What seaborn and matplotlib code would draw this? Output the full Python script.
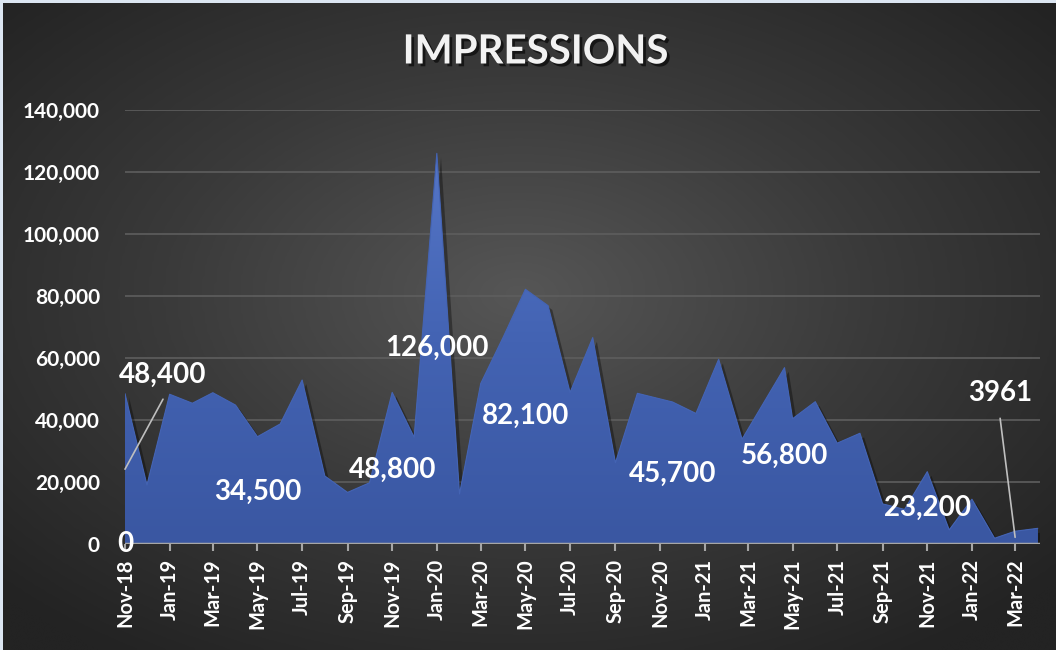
import numpy as np
import pandas as pd
import seaborn as sns
import matplotlib
matplotlib.use("Agg")
import matplotlib.pyplot as plt
import matplotlib.dates as mdates
import matplotlib.patheffects as pe
from matplotlib.colors import LinearSegmentedColormap

# monthly impressions (a few entries in late 2020 / early 2021 fall mid-month)
dates = (
    list(pd.date_range("2018-11-01", "2020-10-01", freq="MS"))
    + list(pd.to_datetime(["2020-11-18", "2020-12-20", "2021-01-20",
                           "2021-02-21", "2021-04-20"]))
    + list(pd.date_range("2021-05-01", "2022-04-01", freq="MS"))
)
impressions = [
    48400, 18900, 48200, 45300, 48700, 44700, 34500, 38600, 52800, 21800,
    16500, 19600, 48800, 34300, 126000, 16000, 51700, 66800, 82100, 76800,
    48800, 66500, 26100, 48500,
    45700, 42000, 59500, 33700, 56800,
    40300, 45800, 32400, 35600, 12800, 11000, 23200, 4400, 14300, 1700,
    3961, 4900,
]
tick_dates = pd.date_range("2018-11-01", "2022-03-01", freq="2MS")
y_ticks = [0, 20000, 40000, 60000, 80000, 100000, 120000, 140000]

# data labels: (point index, text)
label_points = [(0, "48,400"), (6, "34,500"), (12, "48,800"), (14, "126,000"),
                (18, "82,100"), (24, "45,700"), (28, "56,800"), (35, "23,200"),
                (39, "3961")]

df = pd.DataFrame({"date": dates, "impressions": impressions})

sns.set_theme(style="dark")
plt.rcParams["font.family"] = ["Lato", "DejaVu Sans"]
plt.rcParams["font.weight"] = "bold"

fig = plt.figure(figsize=(10.56, 6.5), dpi=100)
fig.patch.set_facecolor("#dce6f2")

# dark radial background
bg = fig.add_axes([3 / 1056, 0, 1 - 3 / 1056, 1 - 3 / 650])
gx, gy = np.meshgrid(np.linspace(-1, 1, 400), np.linspace(-1, 1, 250))
r = np.sqrt((gx + 0.02) ** 2 + (gy + 0.1) ** 2)
bg_cmap = LinearSegmentedColormap.from_list("bg", ["#565656", "#3a3a3a", "#232323"])
bg.imshow(r, cmap=bg_cmap, aspect="auto", vmin=0, vmax=1.35, interpolation="bicubic")
bg.set_axis_off()

ax = fig.add_axes([125 / 1056, 1 - 543.5 / 650, 915 / 1056, 433.5 / 650])
ax.set_facecolor("none")

xmin = pd.Timestamp("2018-11-01")
xmax = pd.Timestamp("2022-04-04")

for v in y_ticks[1:]:
    ax.axhline(v, color="#5e5e5e", lw=1.2, zorder=1)

poly = ax.fill_between(df["date"], df["impressions"], 0, color="#3e5ca8", lw=0, zorder=2,
                       path_effects=[pe.SimplePatchShadow(offset=(3, -3), alpha=0.35,
                                                          shadow_rgbFace="black"),
                                     pe.Normal()])
sns.lineplot(data=df, x="date", y="impressions", ax=ax, color="#4464b4", lw=0.8, zorder=3)

area_cmap = LinearSegmentedColormap.from_list("area", ["#3a57a2", "#4363b3", "#5677c8"])
grad = np.linspace(0, 1, 256).reshape(-1, 1)
im = ax.imshow(grad, cmap=area_cmap, aspect="auto", origin="lower",
               extent=[mdates.date2num(xmin), mdates.date2num(xmax), 0, 130000], zorder=2.5)
im.set_clip_path(poly.get_paths()[0], transform=ax.transData)

ax.axhline(0, color="#a6a6a6", lw=2.5, zorder=4)

ax.set_xlim(xmin, xmax)
ax.set_ylim(0, 140000)
ax.set_xticks(tick_dates)
ax.set_xticklabels([d.strftime("%b-%y") for d in tick_dates], rotation=90,
                   color="white", fontsize=14.5, fontweight="bold")
ax.set_yticks(y_ticks)
ax.set_yticklabels([f"{v:,}" for v in y_ticks], color="white", fontsize=15, fontweight="bold")
ax.tick_params(axis="x", length=5, width=1.5, color="#a6a6a6", pad=6, bottom=True)
ax.tick_params(axis="y", length=0, pad=18)
ax.set_xlabel("")
ax.set_ylabel("")
ax.grid(False)
for s in ax.spines.values():
    s.set_visible(False)

# data labels, placed relative to their point (pixel offsets)
offsets = {0: (38, 19), 6: (0, -55), 12: (0, -77), 14: (0, -195), 18: (0, -127),
           24: (0, -72), 28: (0, -88), 35: (0, -36), 39: (-15, 138)}
for i, txt in label_points:
    ax.annotate(txt, (df["date"][i], df["impressions"][i]), xytext=offsets[i],
                textcoords="offset pixels", ha="center", va="center", color="white",
                fontsize=20, fontweight="bold", zorder=6)

# leader lines
ax.annotate("", (df["date"][0], 24000), xytext=(38, 70), textcoords="offset pixels",
            arrowprops=dict(arrowstyle="-", color="#bfbfbf", lw=1.2, shrinkA=0, shrinkB=0),
            zorder=5)
ax.annotate("", (df["date"][39], 2000), xytext=(-15, 119), textcoords="offset pixels",
            arrowprops=dict(arrowstyle="-", color="#bfbfbf", lw=1.2, shrinkA=0, shrinkB=0),
            zorder=5)
ax.annotate("0", (df["date"][0], 0), ha="center", va="center", color="white",
            fontsize=20, fontweight="bold", zorder=6, annotation_clip=False)

fig.text(0.507, 1 - 52 / 650, "IMPRESSIONS", ha="center", va="center", color="#f2f2f2",
         fontsize=29, fontweight="bold",
         path_effects=[pe.withSimplePatchShadow(offset=(2, -2), shadow_rgbFace="black", alpha=0.6)])

fig.savefig("out.png", dpi=100, facecolor=fig.get_facecolor())
